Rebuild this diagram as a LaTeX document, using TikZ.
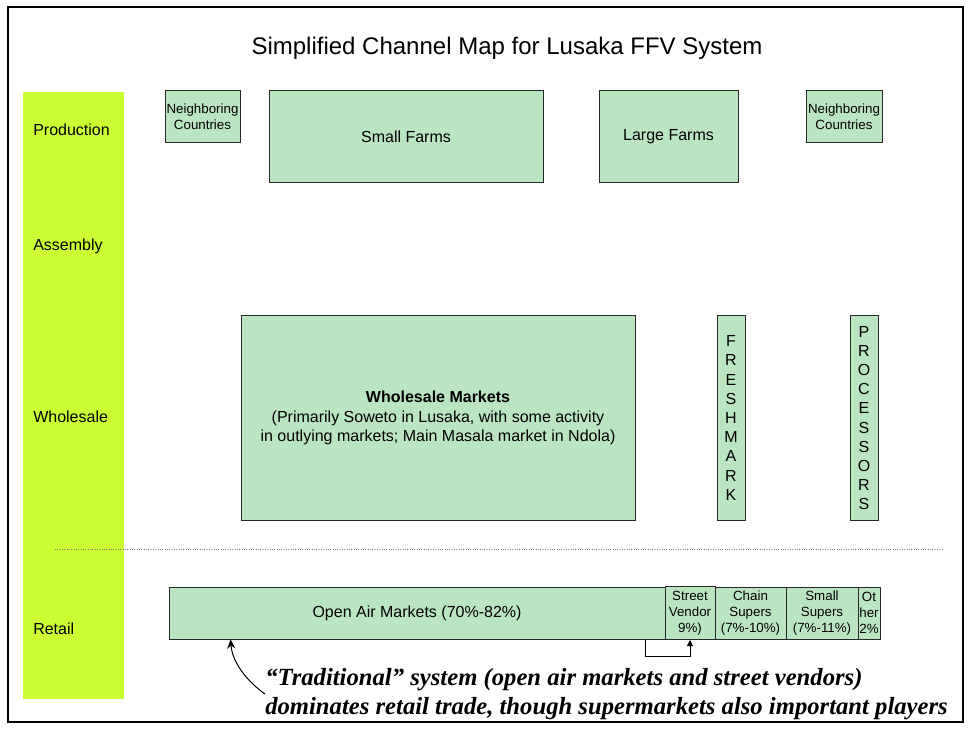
\documentclass[tikz,border=0pt]{standalone}
\usepackage{fontspec}
\setmainfont{Liberation Sans}
\newfontfamily\notefont{Liberation Serif}
\usetikzlibrary{arrows.meta,calc}
\newlength{\pxu}
\setlength{\pxu}{0.75pt}
\definecolor{boxgreen}{RGB}{187,229,193}
\definecolor{lanegreen}{RGB}{204,255,51}
\definecolor{boxline}{RGB}{40,40,40}
\tikzset{
  box/.style={draw=boxline, fill=boxgreen, line width=1\pxu, inner sep=0pt,
    align=center, font=\fontsize{12}{14.4}\selectfont},
  smallbox/.style={box, font=\fontsize{10}{12}\selectfont},
  lanelabel/.style={anchor=west, inner sep=0pt, font=\fontsize{12}{14.4}\selectfont},
}
\begin{document}
\begin{tikzpicture}[x=0.75pt, y=-0.75pt]
\useasboundingbox (0,0) rectangle (969,730);
% outer frame
\draw[line width=2.5\pxu] (8,7) rectangle (963,722);
% title
\node[font=\fontsize{18}{21.6}\selectfont] (title) at (507,48) {Simplified Channel Map for Lusaka FFV System};
% lane bar and labels
\fill[lanegreen] (23,92) rectangle (124,699);
\node[lanelabel] (lprod) at (33,130) {Production};
\node[lanelabel] (lass) at (33,246) {Assembly};
\node[lanelabel] (lwhole) at (33,417) {Wholesale};
\node[lanelabel] (lret) at (33,629) {Retail};
% separator between wholesale and retail
\draw[gray, line width=1\pxu, densely dotted] (55,549) -- (942,549);
% production level
\node[smallbox, minimum width=75\pxu, minimum height=52\pxu] (nbl) at (202.5,117) {Neighboring\\Countries};
\node[box, minimum width=274\pxu, minimum height=92\pxu] (small) at (406,137) {Small Farms};
\node[box, minimum width=139\pxu, minimum height=92\pxu] (large) at (668.5,137) {Large Farms};
\node[smallbox, minimum width=76\pxu, minimum height=52\pxu] (nbr) at (844,117) {Neighboring\\Countries};
% wholesale level
\node[box, minimum width=394\pxu, minimum height=204\pxu] (whole) at (438,418)
  {\textbf{Wholesale Markets}\\(Primarily Soweto in Lusaka, with some activity\\in outlying markets; Main Masala market in Ndola)};
\node[box, minimum width=28\pxu, minimum height=204\pxu] (fresh) at (731,418)
  {F\\R\\E\\S\\H\\M\\A\\R\\K};
\node[box, minimum width=28\pxu, minimum height=204\pxu] (proc) at (864,418)
  {P\\R\\O\\C\\E\\S\\S\\O\\R\\S};
% retail level
\node[box, minimum width=496\pxu, minimum height=52\pxu] (oam) at (417,613) {Open Air Markets (70\%-82\%)};
\node[smallbox, minimum width=50\pxu, minimum height=53\pxu] (sv) at (690,613) {Street\\Vendor\\9\%)};
\node[smallbox, minimum width=71\pxu, minimum height=52\pxu] (chain) at (750.5,613) {Chain\\Supers\\(7\%-10\%)};
\node[smallbox, minimum width=72\pxu, minimum height=52\pxu] (ssup) at (822,613) {Small\\Supers\\(7\%-11\%)};
\node[smallbox, minimum width=22\pxu, minimum height=52\pxu] (oth) at (869,613) {Ot\\her\\2\%};
% link from open air markets to street vendors
\draw[line width=1\pxu, -{Triangle[length=4.5pt,width=4.5pt]}]
  ($(oam.south west)!0.96!(oam.south east)$) -- ++(0,17) -| (sv.south);
% annotation
\node[anchor=west, align=left, inner sep=0pt,
  font=\notefont\bfseries\itshape\fontsize{18.5}{22}\selectfont] (note) at (265,694)
  {“Traditional” system (open air markets and street vendors)\\dominates retail trade, though supermarkets also important players};
\draw[line width=1\pxu, -{Stealth[length=6.75pt,width=6pt]}]
  (note.west) .. controls (244,679) and (232,660) .. ($(oam.south west)!0.125!(oam.south east)$);
\end{tikzpicture}
\end{document}
